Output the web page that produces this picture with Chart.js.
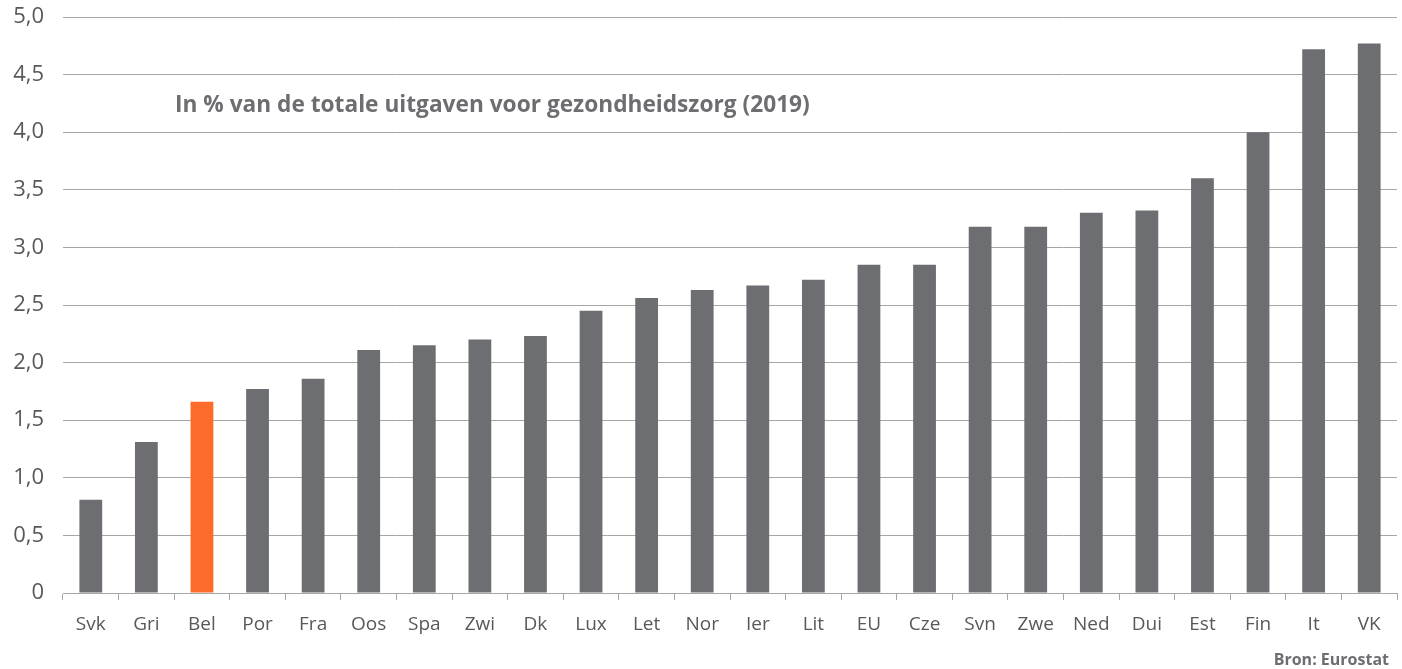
<!DOCTYPE html>
<html>
<head>
<meta charset="utf-8">
<script src="https://cdn.jsdelivr.net/npm/chart.js@4/dist/chart.umd.min.js"></script>
<style>
  html, body { margin: 0; padding: 0; background: #fff; }
  #wrap { position: relative; width: 1402px; height: 669px; }
</style>
</head>
<body>
<div id="wrap"><canvas id="zorgChart"></canvas></div>
<script>
const landen = ['Svk', 'Gri', 'Bel', 'Por', 'Fra', 'Oos', 'Spa', 'Zwi', 'Dk', 'Lux', 'Let', 'Nor',
                'Ier', 'Lit', 'EU', 'Cze', 'Svn', 'Zwe', 'Ned', 'Dui', 'Est', 'Fin', 'It', 'VK'];
const aandeel = [0.81, 1.31, 1.66, 1.77, 1.86, 2.11, 2.15, 2.20, 2.23, 2.45, 2.56, 2.63,
                 2.67, 2.72, 2.85, 2.85, 3.18, 3.18, 3.30, 3.32, 3.60, 4.00, 4.72, 4.77];
const yTicks = [0, 0.5, 1, 1.5, 2, 2.5, 3, 3.5, 4, 4.5, 5];

const titel = 'In % van de totale uitgaven voor gezondheidszorg (2019)';
const bron = 'Bron: Eurostat';

const grijs = '#6d6e71';
const oranje = '#ff6b2b';
const lijn = '#a6a6a6';
const font = "'Open Sans', sans-serif";

// extra text: subtitle inside the plot and source note bottom right
const tekstPlugin = {
  id: 'tekst',
  afterDraw(chart) {
    const ctx = chart.ctx;
    ctx.save();
    ctx.fillStyle = '#6d6e71';
    ctx.font = `bold 22.7px ${font}`;
    ctx.textBaseline = 'middle';
    ctx.textAlign = 'left';
    ctx.fillText(titel, 175, 106);
    ctx.font = `bold 16px ${font}`;
    ctx.textAlign = 'right';
    ctx.fillText(bron, 1389, 660);
    ctx.restore();
  }
};

new Chart(document.getElementById('zorgChart'), {
  type: 'bar',
  data: {
    labels: landen,
    datasets: [{
      data: aandeel,
      backgroundColor: landen.map(l => l === 'Bel' ? oranje : grijs),
      categoryPercentage: 1,
      barPercentage: 0.41
    }]
  },
  options: {
    responsive: true,
    maintainAspectRatio: false,
    animation: false,
    layout: { padding: { top: 17, right: 5, left: 0, bottom: 0 } },
    plugins: {
      legend: { display: false },
      tooltip: { enabled: false }
    },
    scales: {
      x: {
        afterFit: s => { s.height = 76; s.paddingLeft = 0; s.paddingRight = 0; },
        grid: { drawOnChartArea: false, color: lijn, tickLength: 7, offset: true },
        border: { color: lijn, width: 1 },
        ticks: { color: '#595959', font: { family: font, size: 19 }, padding: 13 }
      },
      y: {
        min: 0,
        max: 5,
        afterFit: s => { s.width = 63; s.paddingTop = 0; s.paddingBottom = 0; },
        afterBuildTicks: s => { s.ticks = yTicks.map(v => ({ value: v })); },
        grid: { color: lijn, drawTicks: false },
        border: { display: false },
        ticks: {
          color: '#595959',
          font: { family: font, size: 22 },
          padding: 19,
          callback: v => v === 0 ? '0' : v.toFixed(1).replace('.', ',')
        }
      }
    }
  },
  plugins: [tekstPlugin]
});
</script>
</body>
</html>
